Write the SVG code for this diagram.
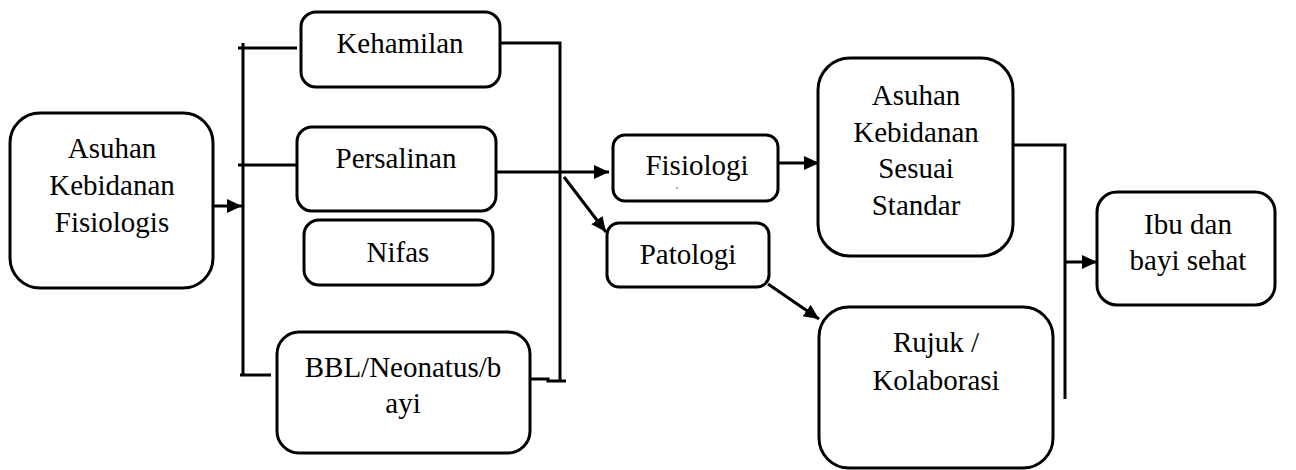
<svg xmlns="http://www.w3.org/2000/svg" width="1296" height="470" viewBox="0 0 1296 470">
<style>
.box{fill:#fff;stroke:#000;stroke-width:3}
.ln{fill:none;stroke:#000;stroke-width:3}
.ar{fill:none;stroke:#000;stroke-width:3;marker-end:url(#ah)}
</style>
<defs>
<marker id="ah" markerUnits="userSpaceOnUse" markerWidth="16" markerHeight="16" viewBox="0 0 16 16" refX="15" refY="8" orient="auto">
<path d="M0,1 L15,8 L0,15 Z" fill="#000"/>
</marker>
</defs>
<rect width="1296" height="470" fill="#fff"/>
<g id="connectors">
<path class="ar" d="M213,206 H242"/>
<path class="ln" d="M243,43 V375"/>
<path class="ln" d="M238,48 H297"/>
<path class="ln" d="M238,165 H297"/>
<path class="ln" d="M240,375 H271"/>
<path class="ln" d="M500,43 H560 V381"/>
<path class="ln" d="M530,379 H548 V381 H566"/>
<path class="ar" d="M496,172 H609"/>
<path class="ar" d="M564,177 L606,232"/>
<path class="ar" d="M778,163 H819"/>
<path class="ar" d="M768,284 L819,319"/>
<path class="ln" d="M1013,145 H1065 V399"/>
<path class="ar" d="M1065,262 H1097"/>
</g>
<g id="n_asuhan_fisiologis" font-family="Liberation Serif, serif" font-size="29" text-anchor="middle">
<rect class="box" x="10" y="113" width="203" height="175" rx="30"/>
<text x="112" y="158">Asuhan</text>
<text x="112" y="195">Kebidanan</text>
<text x="112" y="232">Fisiologis</text>
</g>
<g id="n_kehamilan" font-family="Liberation Serif, serif" font-size="29" text-anchor="middle">
<rect class="box" x="301" y="12" width="199" height="75" rx="15"/>
<text x="400" y="53">Kehamilan</text>
</g>
<g id="n_persalinan" font-family="Liberation Serif, serif" font-size="29" text-anchor="middle">
<rect class="box" x="297" y="127" width="199" height="84" rx="15"/>
<text x="396" y="168">Persalinan</text>
</g>
<g id="n_nifas" font-family="Liberation Serif, serif" font-size="29" text-anchor="middle">
<rect class="box" x="304" y="220" width="189" height="65" rx="15"/>
<text x="398" y="262">Nifas</text>
</g>
<g id="n_bbl" font-family="Liberation Serif, serif" font-size="29" text-anchor="middle">
<rect class="box" x="277" y="332" width="253" height="121" rx="22"/>
<text x="403" y="377">BBL/Neonatus/b</text>
<text x="403" y="413">ayi</text>
</g>
<g id="n_fisiologi" font-family="Liberation Serif, serif" font-size="29" text-anchor="middle">
<rect class="box" x="613" y="135" width="165" height="66" rx="12"/>
<text x="697" y="175">Fisiologi</text>
<text x="677" y="195" font-size="10">`</text>
</g>
<g id="n_patologi" font-family="Liberation Serif, serif" font-size="29" text-anchor="middle">
<rect class="box" x="607" y="223" width="162" height="64" rx="12"/>
<text x="688" y="264">Patologi</text>
</g>
<g id="n_asuhan_standar" font-family="Liberation Serif, serif" font-size="29" text-anchor="middle">
<rect class="box" x="818" y="58" width="195" height="198" rx="32"/>
<text x="916" y="105">Asuhan</text>
<text x="916" y="142">Kebidanan</text>
<text x="916" y="178">Sesuai</text>
<text x="916" y="215">Standar</text>
</g>
<g id="n_rujuk" font-family="Liberation Serif, serif" font-size="29" text-anchor="middle">
<rect class="box" x="819" y="307" width="234" height="161" rx="30"/>
<text x="936" y="352">Rujuk /</text>
<text x="936" y="390">Kolaborasi</text>
</g>
<g id="n_ibu" font-family="Liberation Serif, serif" font-size="29" text-anchor="middle">
<rect class="box" x="1097" y="192" width="178" height="113" rx="20"/>
<text x="1188" y="234">Ibu dan</text>
<text x="1188" y="270">bayi sehat</text>
</g>
</svg>
